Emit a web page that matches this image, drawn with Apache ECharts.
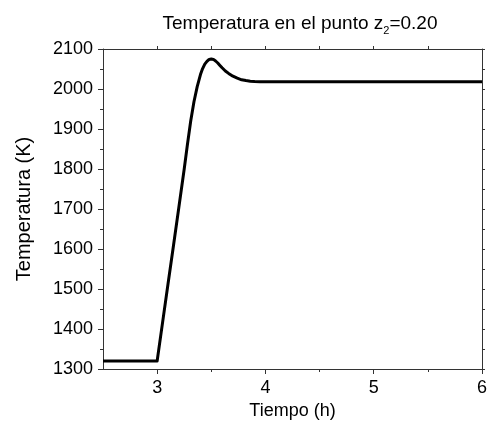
<!DOCTYPE html>
<html>
<head>
<meta charset="utf-8">
<script src="https://cdn.jsdelivr.net/npm/echarts@6/dist/echarts.min.js"></script>
<style>html,body{margin:0;padding:0;background:#fff}#c{width:490px;height:432px}</style>
</head>
<body>
<div id="c"></div>
<script>
var timeH = [2.5, 3.0, 3.05, 3.1, 3.15, 3.2, 3.25, 3.28, 3.31, 3.34, 3.37, 3.4, 3.42, 3.44, 3.46, 3.48, 3.5, 3.52, 3.54, 3.56, 3.58, 3.6, 3.63, 3.66, 3.7, 3.74, 3.78, 3.82, 3.86, 3.9, 3.95, 4.0, 5.0, 6.0];
var tempK = [1320, 1320, 1416, 1512, 1607, 1703, 1800, 1862, 1920, 1968, 2006, 2036, 2051, 2062, 2069, 2074, 2075, 2074, 2070, 2065, 2059, 2053, 2045, 2039, 2032, 2027, 2023, 2021, 2019.5, 2018.5, 2018, 2018, 2018, 2018];
var xMajor = [3, 4, 5, 6];
var xMinor = [3.5, 4.5, 5.5];
var xTop = [3, 3.5, 4, 4.5, 5, 5.5];

var FONT = 'Liberation Sans, Arial, sans-serif';
var chart = echarts.init(document.getElementById('c'));
var lineStyle = {color: '#333', width: 1};
var common = {min: 2.5, max: 6, type: 'value', splitLine: {show: false}};
chart.setOption({
  animation: false,
  backgroundColor: '#fff',
  title: {
    text: '{a|Temperatura en el punto z}{s|2}{a|=0.20}',
    left: 295, textAlign: 'center', top: 6,
    textStyle: {
      fontWeight: 'normal',
      rich: {
        a: {fontFamily: FONT, fontSize: 19, fontWeight: 'normal', color: '#000', lineHeight: 22, verticalAlign: 'bottom'},
        s: {fontFamily: FONT, fontSize: 11, fontWeight: 'normal', color: '#000', lineHeight: 14, verticalAlign: 'bottom', padding: [0, 0, -3, 0]}
      }
    }
  },
  grid: {left: 103, right: 4, top: 49, bottom: 63},
  xAxis: [
    Object.assign({}, common, {
      position: 'bottom',
      name: 'Tiempo (h)', nameLocation: 'middle', nameGap: 31,
      nameTextStyle: {fontFamily: FONT, fontSize: 18, color: '#000'},
      axisLine: {show: true, lineStyle: lineStyle},
      axisTick: {show: true, inside: false, length: 5, customValues: xMajor, lineStyle: lineStyle},
      axisLabel: {show: true, customValues: xMajor, margin: 10, fontFamily: FONT, fontSize: 18, color: '#000'}
    }),
    Object.assign({}, common, {
      position: 'bottom',
      axisLine: {show: false},
      axisTick: {show: true, inside: false, length: 3, customValues: xMinor, lineStyle: lineStyle},
      axisLabel: {show: false}
    }),
    Object.assign({}, common, {
      position: 'top',
      axisLine: {show: true, lineStyle: lineStyle},
      axisTick: {show: true, inside: false, length: 3, customValues: xTop, lineStyle: lineStyle},
      axisLabel: {show: false}
    })
  ],
  yAxis: [
    {
      type: 'value', position: 'left', min: 1300, max: 2100, interval: 100,
      name: 'Temperatura (K)', nameLocation: 'middle', nameGap: 69,
      nameTextStyle: {fontFamily: FONT, fontSize: 20, color: '#000'},
      splitLine: {show: false},
      axisLine: {show: true, lineStyle: lineStyle},
      axisTick: {show: true, inside: false, length: 5, lineStyle: lineStyle},
      minorTick: {show: true, splitNumber: 2, length: 3, lineStyle: lineStyle},
      axisLabel: {margin: 10, fontFamily: FONT, fontSize: 18, color: '#000', formatter: function (v) { return String(v); }}
    },
    {
      type: 'value', position: 'right', min: 1300, max: 2100, interval: 100,
      splitLine: {show: false},
      axisLine: {show: true, lineStyle: lineStyle},
      axisTick: {show: true, inside: false, length: 3, lineStyle: lineStyle},
      minorTick: {show: true, splitNumber: 2, length: 3, lineStyle: lineStyle},
      axisLabel: {show: false}
    }
  ],
  series: [{
    type: 'line', xAxisIndex: 0, yAxisIndex: 0,
    data: timeH.map(function (t, i) { return [t, tempK[i]]; }),
    showSymbol: false, symbol: 'none', smooth: false,
    lineStyle: {color: '#000', width: 3, join: 'round'}
  }]
});
</script>
</body>
</html>
